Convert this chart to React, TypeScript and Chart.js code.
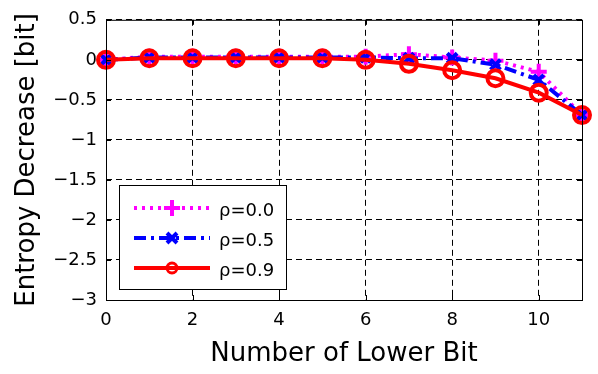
import React, { useEffect, useRef } from "react";
import { Chart, registerables } from "chart.js";
Chart.register(...registerables);

const lowerBits = [0, 1, 2, 3, 4, 5, 6, 7, 8, 9, 10, 11];
const rho00 = [0, 0.04, 0.04, 0.04, 0.04, 0.04, 0.04, 0.07, 0.03, -0.01, -0.15, -0.69];
const rho05 = [0, 0.03, 0.03, 0.03, 0.03, 0.03, 0.03, 0.02, 0.02, -0.06, -0.25, -0.69];
const rho09 = [0, 0.02, 0.02, 0.02, 0.02, 0.02, 0.0, -0.05, -0.13, -0.23, -0.41, -0.69];
const seriesLabels = ["ρ=0.0", "ρ=0.5", "ρ=0.9"];
const xTicks = [0, 2, 4, 6, 8, 10];

const FONT = "'DejaVu Sans', sans-serif";

const styles = [
  { color: "#ff00ff", dash: [3, 5], style: "cross", radius: 8, width: 4 },
  { color: "#0000ff", dash: [12, 5, 3, 5], style: "crossRot", radius: 7, width: 4 },
  { color: "#ff0000", dash: [], style: "circle", radius: 8, width: 4 },
];

const boxPlugin = {
  id: "boxPlugin",
  afterDraw(chart: any) {
    const { ctx, chartArea: a, scales } = chart;
    ctx.save();
    ctx.strokeStyle = "#000";
    ctx.lineWidth = 1;
    ctx.setLineDash([]);
    ctx.strokeRect(a.left + 0.5, a.top + 0.5, a.right - a.left, a.bottom - a.top);
    const tl = 5;
    ctx.beginPath();
    for (const v of xTicks) {
      const x = Math.round(scales.x.getPixelForValue(v)) + 0.5;
      ctx.moveTo(x, a.bottom);
      ctx.lineTo(x, a.bottom - tl);
      ctx.moveTo(x, a.top);
      ctx.lineTo(x, a.top + tl);
    }
    for (let v = 0.5; v >= -3; v -= 0.5) {
      const y = Math.round(scales.y.getPixelForValue(v)) + 0.5;
      ctx.moveTo(a.left, y);
      ctx.lineTo(a.left + tl, y);
      ctx.moveTo(a.right, y);
      ctx.lineTo(a.right - tl, y);
    }
    ctx.stroke();

    // legend
    const lx = 119, ly = 185, lw = 167, lh = 104;
    ctx.fillStyle = "#fff";
    ctx.fillRect(lx, ly, lw, lh);
    ctx.strokeRect(lx + 0.5, ly + 0.5, lw, lh);
    const rows = [208, 238, 268];
    styles.forEach((s, i) => {
      const y = rows[i];
      ctx.strokeStyle = s.color;
      ctx.lineWidth = s.width;
      ctx.setLineDash(s.dash);
      ctx.beginPath();
      ctx.moveTo(134, y);
      ctx.lineTo(210, y);
      ctx.stroke();
      ctx.setLineDash([]);
      ctx.lineWidth = 4;
      const cx = 172;
      ctx.beginPath();
      if (s.style === "cross") {
        ctx.moveTo(cx - 8, y); ctx.lineTo(cx + 8, y);
        ctx.moveTo(cx, y - 8); ctx.lineTo(cx, y + 8);
        ctx.stroke();
      } else if (s.style === "crossRot") {
        ctx.moveTo(cx - 5, y - 5); ctx.lineTo(cx + 5, y + 5);
        ctx.moveTo(cx + 5, y - 5); ctx.lineTo(cx - 5, y + 5);
        ctx.stroke();
      } else {
        ctx.lineWidth = 3;
        ctx.arc(cx, y, 5, 0, Math.PI * 2);
        ctx.stroke();
      }
      ctx.fillStyle = "#000";
      ctx.font = `18px ${FONT}`;
      ctx.textBaseline = "middle";
      ctx.textAlign = "left";
      ctx.fillText(seriesLabels[i], 219, y + 3);
    });
    ctx.restore();
  },
};

export default function App() {
  const ref = useRef<HTMLCanvasElement>(null);
  useEffect(() => {
    document.body.style.margin = "0";
    const data = [rho00, rho05, rho09];
    const chart = new Chart(ref.current!, {
      type: "line",
      data: {
        datasets: data.map((vals, i) => ({
          label: seriesLabels[i],
          data: vals.map((v, j) => ({ x: lowerBits[j], y: v })),
          borderColor: styles[i].color,
          backgroundColor: "rgba(0,0,0,0)",
          borderWidth: styles[i].width,
          borderDash: styles[i].dash,
          pointStyle: styles[i].style as any,
          pointRadius: styles[i].radius,
          pointBorderWidth: 4,
          pointBorderColor: styles[i].color,
          pointBackgroundColor: "rgba(0,0,0,0)",
          tension: 0,
          order: 3 - i,
          clip: false as any,
        })),
      },
      plugins: [boxPlugin],
      options: {
        animation: false,
        responsive: false,
        maintainAspectRatio: false,
        layout: { padding: { top: 17, right: 16, left: 0, bottom: 0 } },
        plugins: { legend: { display: false }, tooltip: { enabled: false } },
        scales: {
          x: {
            type: "linear",
            min: 0,
            max: 11,
            afterBuildTicks: (s: any) => {
              s.ticks = xTicks.map((v) => ({ value: v }));
            },
            afterFit: (s: any) => {
              s.height = 74;
            },
            grid: { color: "#000", lineWidth: 1, drawTicks: false },
            border: { display: false, dash: [6, 4] },
            ticks: {
              color: "#000",
              font: { family: FONT, size: 18 },
              padding: 10,
              maxRotation: 0,
            },
            title: {
              display: true,
              text: "Number of Lower Bit",
              color: "#000",
              font: { family: FONT, size: 26 },
              padding: { top: 0, bottom: 4 },
            },
          },
          y: {
            type: "linear",
            min: -3,
            max: 0.5,
            afterBuildTicks: (s: any) => {
              const t = [];
              for (let v = -3; v <= 0.5001; v += 0.5) t.push({ value: Math.round(v * 10) / 10 });
              s.ticks = t;
            },
            afterFit: (s: any) => {
              s.width = 106;
            },
            grid: { color: "#000", lineWidth: 1, drawTicks: false },
            border: { display: false, dash: [6, 4] },
            ticks: {
              color: "#000",
              font: { family: FONT, size: 18 },
              padding: 9,
              callback: (v: any) => {
                const n = Number(v);
                const s = String(Math.abs(n));
                return n < 0 ? "\u2212" + s : s;
              },
            },
            title: {
              display: true,
              text: "Entropy Decrease [bit]",
              color: "#000",
              font: { family: FONT, size: 26 },
              padding: { top: 12, bottom: 0 },
            },
          },
        },
      },
    });
    return () => chart.destroy();
  }, []);
  return (
    <div style={{ position: "absolute", left: 0, top: 0, width: 598, height: 374 }}>
      <canvas ref={ref} width={598} height={374} style={{ display: "block" }} />
    </div>
  );
}
